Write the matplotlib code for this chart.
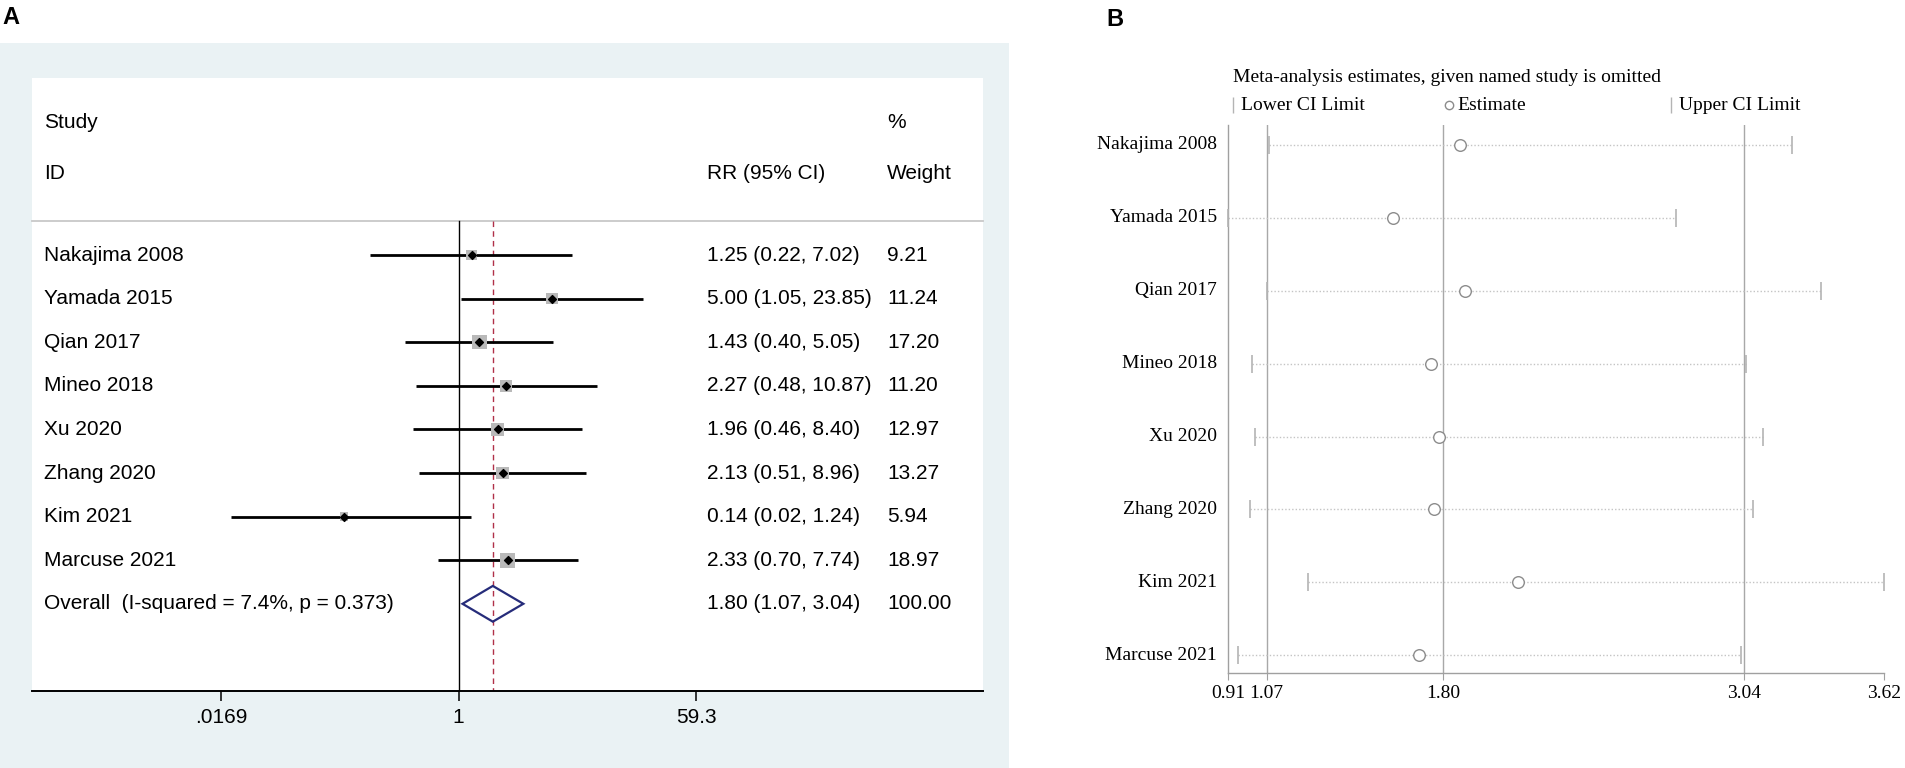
import numpy as np
import matplotlib
matplotlib.use("Agg")
import matplotlib.pyplot as plt
from matplotlib.patches import Rectangle, Polygon
from matplotlib.transforms import blended_transform_factory
from matplotlib.ticker import NullLocator

# ---- data: panel A (forest plot) ----
studies = ["Nakajima 2008", "Yamada 2015", "Qian 2017", "Mineo 2018",
           "Xu 2020", "Zhang 2020", "Kim 2021", "Marcuse 2021"]
rr = [1.25, 5.00, 1.43, 2.27, 1.96, 2.13, 0.14, 2.33]
rr_lo = [0.22, 1.05, 0.40, 0.48, 0.46, 0.51, 0.02, 0.70]
rr_hi = [7.02, 23.85, 5.05, 10.87, 8.40, 8.96, 1.24, 7.74]
weights = [9.21, 11.24, 17.20, 11.20, 12.97, 13.27, 5.94, 18.97]
overall_est, overall_lo, overall_hi = 1.80, 1.07, 3.04
overall_label = "Overall  (I-squared = 7.4%, p = 0.373)"
a_ticks = [0.0169, 1, 59.3]
a_ticklabels = [".0169", "1", "59.3"]

# ---- data: panel B (leave-one-out sensitivity) ----
omit_est = [1.87, 1.59, 1.89, 1.75, 1.78, 1.76, 2.11, 1.70]
omit_lo = [1.08, 0.91, 1.07, 1.01, 1.02, 1.00, 1.24, 0.95]
omit_hi = [3.24, 2.76, 3.36, 3.05, 3.12, 3.08, 3.62, 3.03]
b_ticks = [0.91, 1.07, 1.80, 3.04, 3.62]
b_ref = [1.07, 1.80, 3.04]

W, H = 1906, 768
fig = plt.figure(figsize=(W / 100, H / 100), dpi=100)
sans = ["Liberation Sans", "DejaVu Sans"]
serif = ["Liberation Serif", "DejaVu Serif"]

# panel letters
fig.text(2 / W, 1 - 6 / H, "A", fontsize=17, fontweight="bold", family=sans, va="top")
fig.text(1106 / W, 1 - 8 / H, "B", fontsize=17, fontweight="bold", family=sans, va="top")

# ================= Panel A =================
bg = Rectangle((0, 0), 1009 / W, (H - 43) / H, transform=fig.transFigure,
               facecolor="#eaf2f4", edgecolor="none", zorder=-10)
fig.add_artist(bg)

axA = fig.add_axes([32 / W, 1 - 691 / H, 951 / W, (691 - 78) / H])
axA.set_zorder(1)
axA.set_facecolor("white")
axA.set_xscale("log")
axA.set_xlim(np.exp(-7.33), np.exp(9.01))
axA.set_ylim(10.0, -4.06)
for s in ["top", "left", "right"]:
    axA.spines[s].set_visible(False)
axA.spines["bottom"].set_linewidth(1.4)
axA.set_yticks([])
axA.set_xticks(a_ticks)
axA.set_xticklabels(a_ticklabels, fontsize=15, family=sans)
axA.xaxis.set_minor_locator(NullLocator())
axA.tick_params(axis="x", length=7, width=1.1, pad=5)

tr = blended_transform_factory(axA.transAxes, axA.transData)
hdr_y = -0.78
axA.plot([0, 1], [hdr_y, hdr_y], transform=tr, color="#c8c8c8", lw=1.3, clip_on=False)

# header text
txt = dict(fontsize=15, family=sans, va="center", transform=tr)
axA.text(0.0126, -3.03, "Study", **txt)
axA.text(0.0126, -1.88, "ID", **txt)
axA.text(0.7098, -1.88, "RR (95% CI)", **txt)
axA.text(0.899, -3.03, "%", **txt)
axA.text(0.899, -1.88, "Weight", **txt)

rows = np.arange(len(studies))
# null line and overall dashed line
axA.plot([1, 1], [hdr_y, 10.0], color="black", lw=1.0)
axA.plot([overall_est, overall_est], [hdr_y, 10.0], color="#b03048", lw=1.0,
         linestyle=(0, (4, 3)))

# CI lines, weight squares, point estimate
side_pt = 3.5 * np.sqrt(weights) * 0.72
axA.hlines(rows, rr_lo, rr_hi, color="black", lw=2.0, zorder=2)
axA.scatter(rr, rows, marker="s", s=side_pt ** 2, color="#b9b9b9", edgecolors="none", zorder=3)
axA.scatter(rr, rows, marker="D", s=16, color="black", zorder=4)

for i, name in enumerate(studies):
    axA.text(0.0126, i, name, **txt)
    axA.text(0.7098, i, f"{rr[i]:.2f} ({rr_lo[i]:.2f}, {rr_hi[i]:.2f})", **txt)
    axA.text(0.899, i, f"{weights[i]:.2f}", **txt)

r_ov = len(studies)
dia = Polygon([(overall_lo, r_ov), (overall_est, r_ov - 0.41),
               (overall_hi, r_ov), (overall_est, r_ov + 0.41)],
              closed=True, fill=False, edgecolor="#262c7a", lw=1.6, zorder=4)
axA.add_patch(dia)
axA.text(0.0126, r_ov, overall_label, **txt)
axA.text(0.7098, r_ov, f"{overall_est:.2f} ({overall_lo:.2f}, {overall_hi:.2f})", **txt)
axA.text(0.899, r_ov, "100.00", **txt)

# ================= Panel B =================
axB = fig.add_axes([1228 / W, 1 - 673 / H, 656 / W, 548 / H])
axB.set_xlim(b_ticks[0], b_ticks[-1])
axB.set_ylim(7.243, -0.274)
for s in ["top", "right"]:
    axB.spines[s].set_visible(False)
for s in ["left", "bottom"]:
    axB.spines[s].set_color("#a0a0a0")
    axB.spines[s].set_linewidth(1.0)
axB.set_yticks([])
axB.set_xticks(b_ticks)
axB.set_xticklabels([f"{t:.2f}" for t in b_ticks], fontsize=14, family=serif)
axB.tick_params(axis="x", direction="out", length=5, color="#a0a0a0", pad=4)

for v in b_ref:
    axB.axvline(v, color="#a8a8a8", lw=1.0, zorder=1)

rowsB = np.arange(len(studies))
axB.hlines(rowsB, omit_lo, omit_hi, color="#c4c4c4", lw=1.0, linestyle=(0, (1, 1.5)), zorder=2)
axB.scatter(omit_lo, rowsB, marker="|", s=170, color="#b4b4b4", linewidths=1.2, zorder=3, clip_on=False)
axB.scatter(omit_hi, rowsB, marker="|", s=170, color="#b4b4b4", linewidths=1.2, zorder=3, clip_on=False)
axB.scatter(omit_est, rowsB, marker="o", s=70, facecolors="white", edgecolors="#8c8c8c",
            linewidths=1.0, zorder=4)

trB = blended_transform_factory(axB.transAxes, axB.transData)
for i, name in enumerate(studies):
    axB.text(-0.0168, i, name, fontsize=14, family=serif, ha="right", va="center", transform=trB)

# title and legend row
fig.text(1233 / W, 1 - 78 / H, "Meta-analysis estimates, given named study is omitted",
         fontsize=14, family=serif, va="center")
leg_y = 1 - 105 / H
for xm, mk, label in [(1233, "|", "Lower CI Limit"), (1449, "o", "Estimate"),
                      (1671, "|", "Upper CI Limit")]:
    if mk == "o":
        fig.add_artist(plt.Line2D([xm / W], [leg_y], marker="o", markersize=6,
                                  markerfacecolor="white", markeredgecolor="#8c8c8c",
                                  transform=fig.transFigure))
    else:
        fig.add_artist(plt.Line2D([xm / W], [leg_y], marker="|", markersize=12,
                                  color="#b4b4b4", transform=fig.transFigure))
    fig.text((xm + 8) / W, leg_y, label, fontsize=14, family=serif, va="center")

fig.savefig("out.png", dpi=100)
